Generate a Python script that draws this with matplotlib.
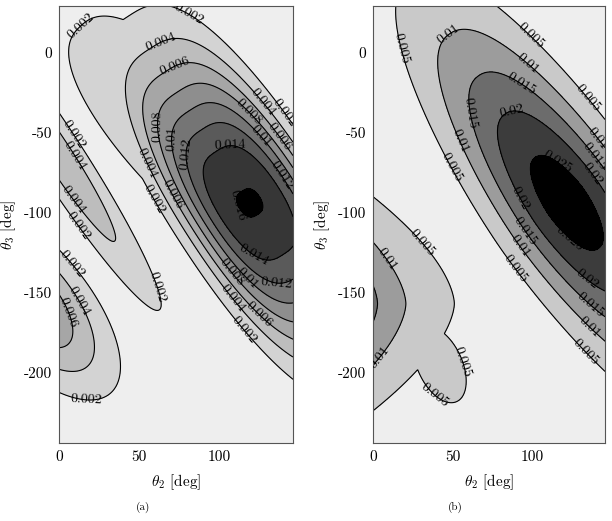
import numpy as np
import matplotlib.pyplot as plt

plt.rcParams['font.family'] = 'serif'
plt.rcParams['font.serif'] = ['cmr10']
plt.rcParams['mathtext.fontset'] = 'cm'
plt.rcParams['axes.unicode_minus'] = False
plt.rcParams['axes.formatter.use_mathtext'] = True

# axis ranges [deg]
theta2_lim = (0, 146)
theta3_lim = (-244, 29)
xticks = [0, 50, 100]
yticks = [0, -50, -100, -150, -200]

# panel (a): contour levels, band greys and the lobes of the density
levels_a = [0.002, 0.004, 0.006, 0.008, 0.010, 0.012, 0.014, 0.016]
greys_a = ['#eeeeee', '#d3d3d3', '#bdbdbd', '#a6a6a6', '#8e8e8e',
           '#757575', '#5a5a5a', '#363636', '#000000']
a_cx = [119, 80, -1, -20]
a_cy = [-94, -55, -63, -153]
a_amp = [0.0161, 0.005, 0.0055, 0.0085]
a_su = [98, 102, 116, 66]
a_sv = [39, 38, 14.8, 29]
a_ang = [-57, -47, -57, -49]
a_pu = [2.1, 2.0, 2.0, 2.0]
a_pv = [3.0, 2.5, 2.0, 2.0]

# panel (b)
levels_b = [0.005, 0.010, 0.015, 0.020, 0.025]
greys_b = ['#eeeeee', '#c9c9c9', '#9c9c9c', '#6c6c6c', '#3c3c3c', '#000000']
b_cx = [122, -14, 42]
b_cy = [-94, -157, -195]
b_amp = [0.0275, 0.022, 0.0075]
b_su = [128, 61, 40]
b_sv = [39.6, 44, 22]
b_ang = [-55, -90, -65]
b_pu = [1.8, 1.64, 2.0]
b_pv = [2.2, 1.0, 2.0]

# where the contour labels sit (theta2, theta3)
labels_a = {
    0.002: [(13, 17), (78, 19), (139, -39), (58, -92), (113, -176),
            (11, -50), (11, -109), (63, -146), (10, -131), (17, -216)],
    0.004: [(63, 8), (124, -34), (55, -69), (105, -156), (9, -65),
            (9, -92), (12, -156)],
    0.006: [(71, -6), (138, -52), (69, -90), (124, -165), (4, -163)],
    0.008: [(56, -46), (117, -39), (107, -138)],
    0.010: [(65, -54), (121, -57), (119, -140)],
    0.012: [(77, -63), (136, -79), (136, -141)],
    0.014: [(107, -63), (124, -123)],
    0.016: [(115, -94)],
}
labels_b = {
    0.005: [(13, 1), (96, 7), (138, -26), (49, -72), (88, -136),
            (130, -191), (27, -122), (64, -191), (28, -227)],
    0.010: [(48, 11), (96, -9), (140, -55), (51, -57), (88, -124),
            (132, -176), (5, -132), (12, -197)],
    0.015: [(92, -22), (55, -39), (138, -66), (92, -114), (134, -161)],
    0.020: [(87, -36), (135, -78), (90, -93), (132, -145)],
    0.025: [(115, -70), (124, -116)],
}


def density(X, Y, cx, cy, amp, su, sv, ang, pu, pv):
    # each lobe is a stretched, rotated bump; the field is their envelope
    Z = np.zeros_like(X)
    for i in range(len(cx)):
        t = np.deg2rad(ang[i])
        dx, dy = X - cx[i], Y - cy[i]
        u = dx * np.cos(t) + dy * np.sin(t)
        v = -dx * np.sin(t) + dy * np.cos(t)
        lobe = amp[i] * np.exp(-np.abs(u / su[i]) ** pu[i] - np.abs(v / sv[i]) ** pv[i])
        Z = np.maximum(Z, lobe)
    return Z


th2 = np.linspace(theta2_lim[0], theta2_lim[1], 400)
th3 = np.linspace(theta3_lim[0], theta3_lim[1], 750)
X, Y = np.meshgrid(th2, th3)

Za = density(X, Y, a_cx, a_cy, a_amp, a_su, a_sv, a_ang, a_pu, a_pv)
Zb = density(X, Y, b_cx, b_cy, b_amp, b_su, b_sv, b_ang, b_pu, b_pv)

fig = plt.figure(figsize=(6.12, 5.21), dpi=100)
ax_a = fig.add_axes([59 / 612, 1 - 443 / 521, 234 / 612, 437 / 521])
ax_b = fig.add_axes([373 / 612, 1 - 443 / 521, 232 / 612, 437 / 521])

panels = [(ax_a, Za, levels_a, greys_a, labels_a, '(a)', 143),
          (ax_b, Zb, levels_b, greys_b, labels_b, '(b)', 455)]

for ax, Z, levels, greys, labels, tag, xcap in panels:
    ax.contourf(X, Y, Z, levels=[-1] + levels + [1], colors=greys)
    for lev in levels:
        if Z.max() <= lev:
            continue
        cs = ax.contour(X, Y, Z, levels=[lev], colors='k', linewidths=0.8)
        ax.clabel(cs, manual=labels[lev], inline=False, fmt='%g',
                  fontsize=10, colors='k')
    ax.set_xlim(theta2_lim)
    ax.set_ylim(theta3_lim)
    ax.set_xticks(xticks)
    ax.set_xticklabels([str(v) for v in xticks])
    ax.set_yticks(yticks)
    ax.set_yticklabels([str(v) for v in yticks])
    ax.tick_params(length=0, labelsize=11, pad=5)
    for sp in ax.spines.values():
        sp.set_color('#555555')
        sp.set_linewidth(0.8)
    ax.set_xlabel(r'$\theta_2$ [deg]', fontsize=11, labelpad=6)
    ax.set_ylabel(r'$\theta_3$ [deg]', fontsize=11, labelpad=4)
    fig.text(xcap / 612, 1 - 507 / 521, tag, fontsize=8, ha='center', va='center')

fig.savefig('out.png', dpi=100)
